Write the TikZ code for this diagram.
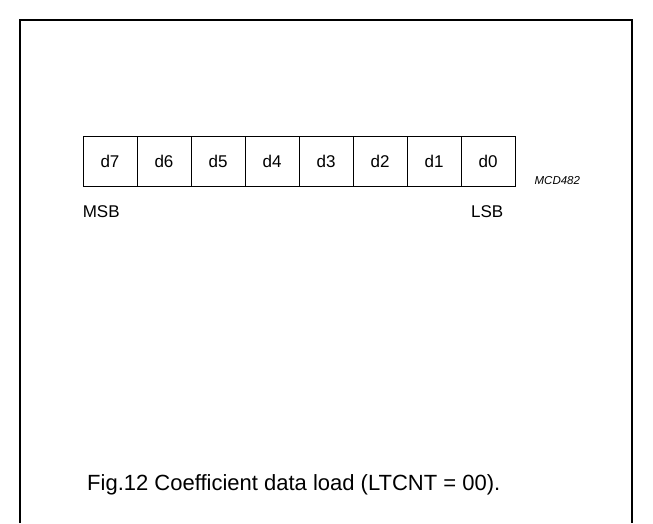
\documentclass[tikz,border=0pt]{standalone}
\usepackage{fontspec}
\setmainfont{Liberation Sans}
\usetikzlibrary{positioning}

\begin{document}
\begin{tikzpicture}[x=1pt, y=-1pt,
    bitcell/.style={draw, line width=0.9pt, minimum width=54pt, minimum height=50pt,
        inner sep=0pt, font=\fontsize{17}{20}\selectfont},
    marklabel/.style={inner sep=0pt, font=\fontsize{17}{20}\selectfont}]
    % Fix the page size
    \useasboundingbox (0,0) rectangle (653,523);

    % Define the corners of the open frame
    \coordinate (fbl) at (20,523);
    \coordinate (ftl) at (20,20);
    \coordinate (ftr) at (632,20);
    \coordinate (fbr) at (632,523);
    \draw[line width=1.3pt] (fbl) -- (ftl) -- (ftr) -- (fbr);

    % Draw the bit cells d7 ... d0
    \foreach \i in {0,...,7} {
        \pgfmathtruncatemacro{\bit}{7-\i}
        \node[bitcell] (d\bit) at ({110+54*\i},161) {d\bit};
    }

    % MSB and LSB marks
    \node[marklabel, anchor=west] (msb) at ([yshift=-25pt]d7.south west) {MSB};
    \node[marklabel, anchor=east] (lsb) at ([xshift=-12pt,yshift=-25pt]d0.south east) {LSB};
    \node[inner sep=0pt, anchor=west, font=\fontsize{11.5}{14}\selectfont\itshape] (code)
        at ([xshift=19pt,yshift=-20pt]d0.east) {MCD482};

    % Caption
    \node[inner sep=0pt, anchor=west, font=\fontsize{22}{26}\selectfont] (caption)
        at (87,485) {Fig.12 Coefficient data load (LTCNT = 00).};
\end{tikzpicture}
\end{document}
